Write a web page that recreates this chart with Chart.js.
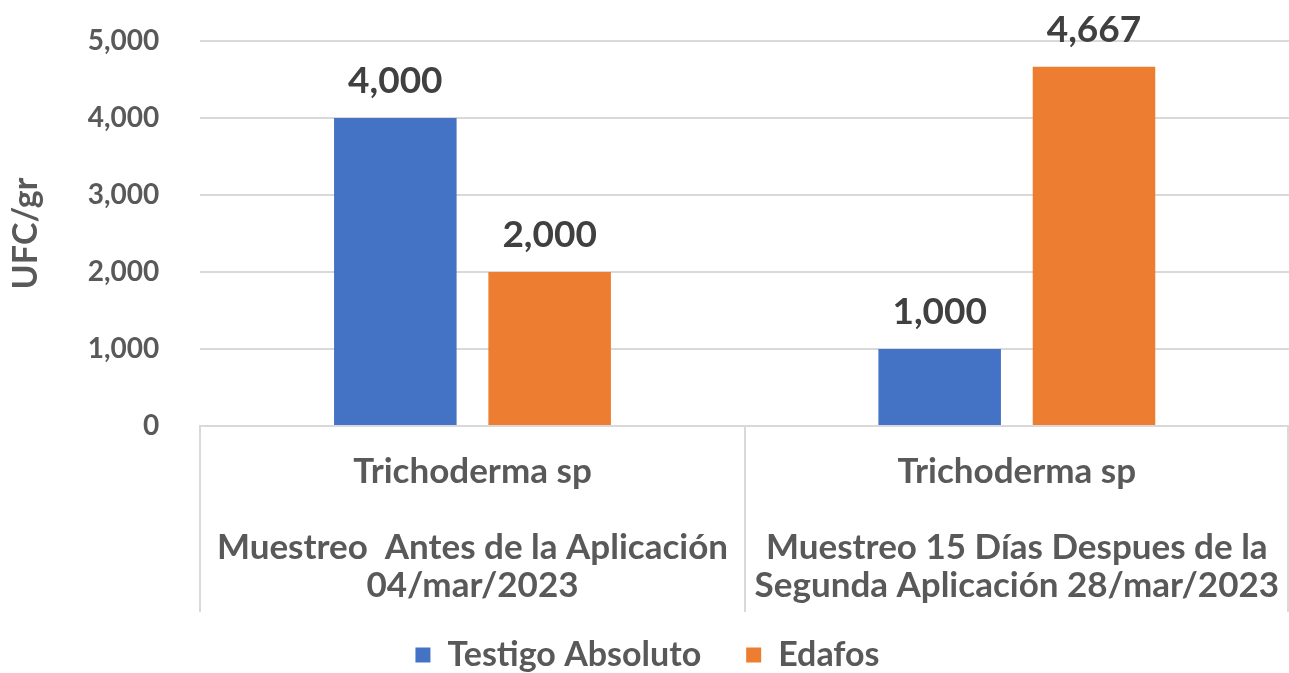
<!DOCTYPE html>
<html>
<head>
<meta charset="utf-8">
<script src="https://cdn.jsdelivr.net/npm/chart.js@4.4.0/dist/chart.umd.min.js"></script>
<style>
  html, body { margin: 0; padding: 0; background: #fff; }
  #wrap { width: 1289px; height: 673px; position: relative; }
</style>
</head>
<body>
<div id="wrap"><canvas id="chart"></canvas></div>
<script>
const categories = [
    ["Trichoderma sp", "", "Muestreo  Antes de la Aplicación", "04/mar/2023"],
    ["Trichoderma sp", "", "Muestreo 15 Días Despues de la", "Segunda Aplicación 28/mar/2023"]
];
const seriesNames = ["Testigo Absoluto", "Edafos"];
const testigo = [4000, 1000];
const edafos = [2000, 4667];
const yTicks = [0, 1000, 2000, 3000, 4000, 5000];

const fontFamily = "Lato, 'Open Sans', sans-serif";

// value above each bar
const valueLabels = {
    id: "valueLabels",
    afterDatasetsDraw(chart) {
        const ctx = chart.ctx;
        ctx.save();
        ctx.font = "bold 37px " + fontFamily;
        ctx.fillStyle = "#404040";
        ctx.textAlign = "center";
        ctx.textBaseline = "alphabetic";
        chart.data.datasets.forEach((ds, i) => {
            chart.getDatasetMeta(i).data.forEach((bar, j) => {
                ctx.fillText(ds.data[j].toLocaleString("en-US"), bar.x, bar.y - 25);
            });
        });
        ctx.restore();
    }
};

// vertical separators between the categories, below the axis
const separators = {
    id: "separators",
    afterLayout(chart) {
        // let the category labels run past the scale box without clipping
        chart.scales.x.bottom = chart.scales.x.top + 190;
    },
    afterDraw(chart) {
        const x = chart.scales.x;
        const ctx = chart.ctx;
        const half = (x.getPixelForValue(1) - x.getPixelForValue(0)) / 2;
        const top = chart.chartArea.bottom;
        ctx.save();
        ctx.strokeStyle = "#d9d9d9";
        ctx.lineWidth = 2;
        ctx.beginPath();
        for (let i = 0; i <= categories.length; i++) {
            const px = Math.min(Math.round(x.getPixelForValue(i) - half), chart.width - 1);
            ctx.moveTo(px, top);
            ctx.lineTo(px, top + 186);
        }
        ctx.stroke();
        ctx.restore();
    }
};

new Chart(document.getElementById("chart"), {
    type: "bar",
    data: {
        labels: categories,
        datasets: [
            { label: seriesNames[0], data: testigo, backgroundColor: "#4472C4" },
            { label: seriesNames[1], data: edafos, backgroundColor: "#ED7D31" }
        ]
    },
    options: {
        responsive: true,
        maintainAspectRatio: false,
        animation: false,
        layout: {
            padding: { top: 41, right: 0, left: 6, bottom: 0 }
        },
        datasets: {
            bar: {
                categoryPercentage: 0.567,
                barPercentage: 0.794
            }
        },
        scales: {
            x: {
                afterFit(scale) {
                    scale.height = 167;
                    scale.paddingLeft = 0;
                    scale.paddingRight = 0;
                },
                grid: {
                    display: false
                },
                border: { color: "#d9d9d9", width: 2 },
                ticks: {
                    color: "#595959",
                    font: { family: fontFamily, weight: "bold", size: 35, lineHeight: 1.08 },
                    padding: 19,
                    maxRotation: 0,
                    autoSkip: false
                }
            },
            y: {
                min: 0,
                max: 5000,
                afterBuildTicks(scale) {
                    scale.ticks = yTicks.map(v => ({ value: v }));
                },
                afterFit(scale) {
                    scale.paddingTop = 0;
                    scale.paddingBottom = 0;
                },
                grid: {
                    color: "#d9d9d9",
                    lineWidth: 2,
                    drawTicks: false
                },
                border: { display: false },
                ticks: {
                    color: "#595959",
                    font: { family: fontFamily, weight: "bold", size: 28 },
                    padding: 41,
                    callback: v => v.toLocaleString("en-US")
                },
                title: {
                    display: true,
                    text: "UFC/gr",
                    color: "#595959",
                    font: { family: fontFamily, weight: "bold", size: 34 },
                    padding: 0
                }
            }
        },
        plugins: {
            legend: {
                position: "bottom",
                maxHeight: 80,
                labels: {
                    color: "#595959",
                    font: { family: fontFamily, weight: "bold", size: 34 },
                    boxWidth: 15,
                    boxHeight: 15,
                    padding: 45
                }
            },
            tooltip: { enabled: false }
        }
    },
    plugins: [valueLabels, separators]
});
</script>
</body>
</html>
